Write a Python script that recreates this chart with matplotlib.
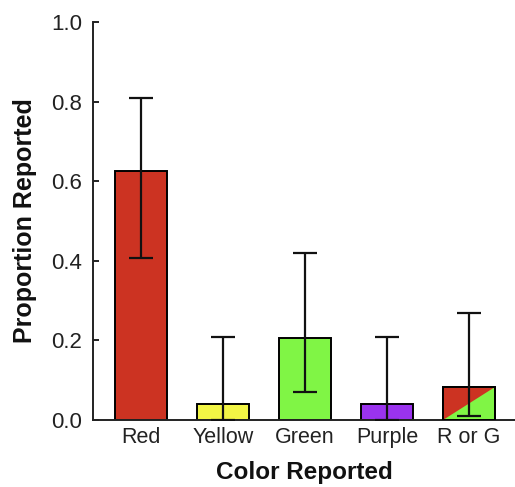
import matplotlib
matplotlib.use("Agg")
import matplotlib.pyplot as plt
from matplotlib.patches import Polygon

plt.rcParams['font.family'] = ['Liberation Sans', 'DejaVu Sans']

categories = ["Red", "Yellow", "Green", "Purple", "R or G"]
values = [0.626, 0.04, 0.206, 0.04, 0.083]
err_low = [0.406, 0.0, 0.07, 0.0, 0.01]
err_high = [0.81, 0.209, 0.42, 0.209, 0.27]
colors = ["#cc3322", "#f2f545", "#80f545", "#9a33ee", "#80f545"]
split_color = "#cc3322"

W, H = 515, 487
fig = plt.figure(figsize=(W / 100, H / 100), dpi=100)
ax = fig.add_axes([93 / W, (H - 420) / H, (W - 93) / W, (420 - 22) / H])

x = list(range(len(categories)))
yerr = [[v - lo for v, lo in zip(values, err_low)],
        [hi - v for v, hi in zip(values, err_high)]]
bars = ax.bar(x, values, width=0.63, color=colors, edgecolor="black",
              linewidth=1.4, zorder=2)

# Diagonal red half on the "R or G" bar
b = bars[-1]
bx, by, bw, bh = b.get_x(), b.get_y(), b.get_width(), b.get_height()
tri = Polygon([(bx, by), (bx, by + bh), (bx + bw, by + bh)], closed=True,
              facecolor=split_color, edgecolor="none", zorder=2.5)
ax.add_patch(tri)
ax.bar([x[-1]], [values[-1]], width=0.63, facecolor="none", edgecolor="black",
       linewidth=1.4, zorder=3)

ax.errorbar(x, values, yerr=yerr, fmt="none", ecolor="#111111",
            elinewidth=1.6, capsize=8.5, capthick=1.6, zorder=4)

ax.set_xlim(-0.585, 4.56)
ax.set_ylim(0, 1.0)
ax.set_yticks([0.0, 0.2, 0.4, 0.6, 0.8, 1.0])
ax.set_yticklabels(["0.0", "0.2", "0.4", "0.6", "0.8", "1.0"])
ax.set_xticks(x)
ax.set_xticklabels(categories)

for s in ["top", "right"]:
    ax.spines[s].set_visible(False)
for s in ["left", "bottom"]:
    ax.spines[s].set_linewidth(1.4)
    ax.spines[s].set_color("#222222")

ax.tick_params(axis="y", direction="in", length=4, width=1.4, pad=8,
               labelsize=16, labelcolor="#222222", color="#222222")
ax.tick_params(axis="x", length=0, pad=5, labelsize=15.5, labelcolor="#222222")

ax.set_xlabel("Color Reported", fontsize=17.5, fontweight="bold", labelpad=9.5,
              color="#111111")
ax.set_ylabel("Proportion Reported", fontsize=18, fontweight="bold", labelpad=10,
              color="#111111")

fig.savefig("out.png", dpi=100)
